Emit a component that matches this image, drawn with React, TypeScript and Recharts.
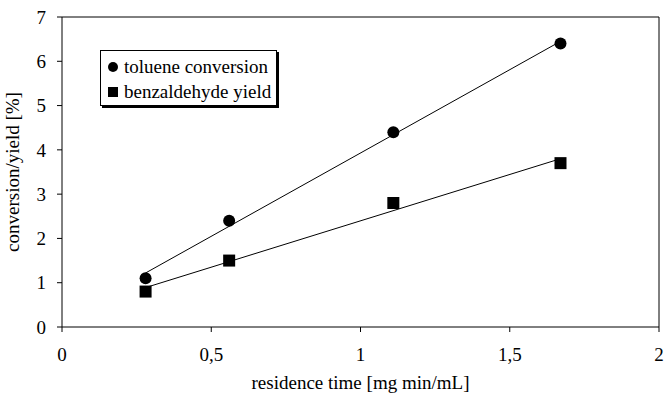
import React from 'react';
import {
  ComposedChart, Scatter, XAxis, YAxis, ReferenceLine, Label,
} from 'recharts';

const residenceTime = [0.28, 0.56, 1.11, 1.67];
const tolueneConversion = [1.1, 2.4, 4.4, 6.4];
const benzaldehydeYield = [0.8, 1.5, 2.8, 3.7];
// trend line end points
const tolueneTrendX = [0.28, 1.67];
const tolueneTrendY = [1.22, 6.45];
const benzTrendX = [0.28, 1.67];
const benzTrendY = [0.89, 3.8];
const xTicks = [0, 0.5, 1, 1.5, 2];
const yTicks = [0, 1, 2, 3, 4, 5, 6, 7];
const seriesNames = ['toluene conversion', 'benzaldehyde yield'];

const toPts = (xs: number[], ys: number[]) => xs.map((x, i) => ({ x, y: ys[i] }));
const tolueneData = toPts(residenceTime, tolueneConversion);
const benzData = toPts(residenceTime, benzaldehydeYield);
const tolueneTrend = toPts(tolueneTrendX, tolueneTrendY);
const benzTrend = toPts(benzTrendX, benzTrendY);

const FONT = '"Liberation Serif", serif';
const FS = 19;

const Circle = (p: any) => <circle cx={p.cx} cy={p.cy} r={6} fill="#000" />;
const Square = (p: any) => <rect x={p.cx - 6} y={p.cy - 6} width={12} height={12} fill="#000" />;
const Nothing = () => <g />;

const LegendBox = () => (
  <div style={{
    position: 'absolute', left: 100, top: 50, boxSizing: 'border-box',
    border: '1px solid #000', boxShadow: '2px 2px 0 #000', background: '#fff',
    fontFamily: FONT, fontSize: FS, color: '#000', padding: '3px 0 3px 7px',
    lineHeight: '25px', width: 177, height: 56,
  }}>
    <div style={{ display: 'flex', alignItems: 'center' }}>
      <span style={{ display: 'inline-block', width: 10, height: 10, borderRadius: '50%', background: '#000', marginRight: 6 }} />
      {seriesNames[0]}
    </div>
    <div style={{ display: 'flex', alignItems: 'center' }}>
      <span style={{ display: 'inline-block', width: 10, height: 10, background: '#000', marginRight: 6 }} />
      {seriesNames[1]}
    </div>
  </div>
);

export default function App() {
  return (
    <div style={{ position: 'absolute', left: 0, top: 0, width: 665, height: 394, background: '#fff', fontFamily: FONT, fontSize: FS }}>
      <ComposedChart width={665} height={394} margin={{ top: 17, right: 6, bottom: 37, left: 0 }}
        style={{ fontFamily: FONT }}>
        <XAxis type="number" dataKey="x" domain={[0, 2]} ticks={xTicks} stroke="#000"
          tickSize={5} tickMargin={16} interval={0} height={30}
          tick={{ fill: '#000', fontFamily: FONT, fontSize: FS }}
          tickFormatter={(v: number) => String(v).replace('.', ',')}
          allowDataOverflow>
          <Label value="residence time [mg min/mL]" position="bottom" offset={19}
            fill="#000" fontFamily={FONT} fontSize={FS} />
        </XAxis>
        <YAxis type="number" dataKey="y" domain={[0, 7]} ticks={yTicks} stroke="#000"
          tickSize={5} tickMargin={11} interval={0} width={62}
          tick={{ fill: '#000', fontFamily: FONT, fontSize: FS }}>
          <Label value="conversion/yield [%]" angle={-90} position="insideLeft" offset={12}
            fill="#000" fontFamily={FONT} fontSize={FS} textAnchor="middle" />
        </YAxis>
        <ReferenceLine y={7} stroke="#000" />
        <ReferenceLine x={2} stroke="#000" />
        <Scatter data={tolueneTrend} line={{ stroke: '#000', strokeWidth: 1 }} shape={Nothing} isAnimationActive={false} legendType="none" />
        <Scatter data={benzTrend} line={{ stroke: '#000', strokeWidth: 1 }} shape={Nothing} isAnimationActive={false} legendType="none" />
        <Scatter data={tolueneData} shape={Circle} isAnimationActive={false} name={seriesNames[0]} />
        <Scatter data={benzData} shape={Square} isAnimationActive={false} name={seriesNames[1]} />
      </ComposedChart>
      <LegendBox />
    </div>
  );
}
